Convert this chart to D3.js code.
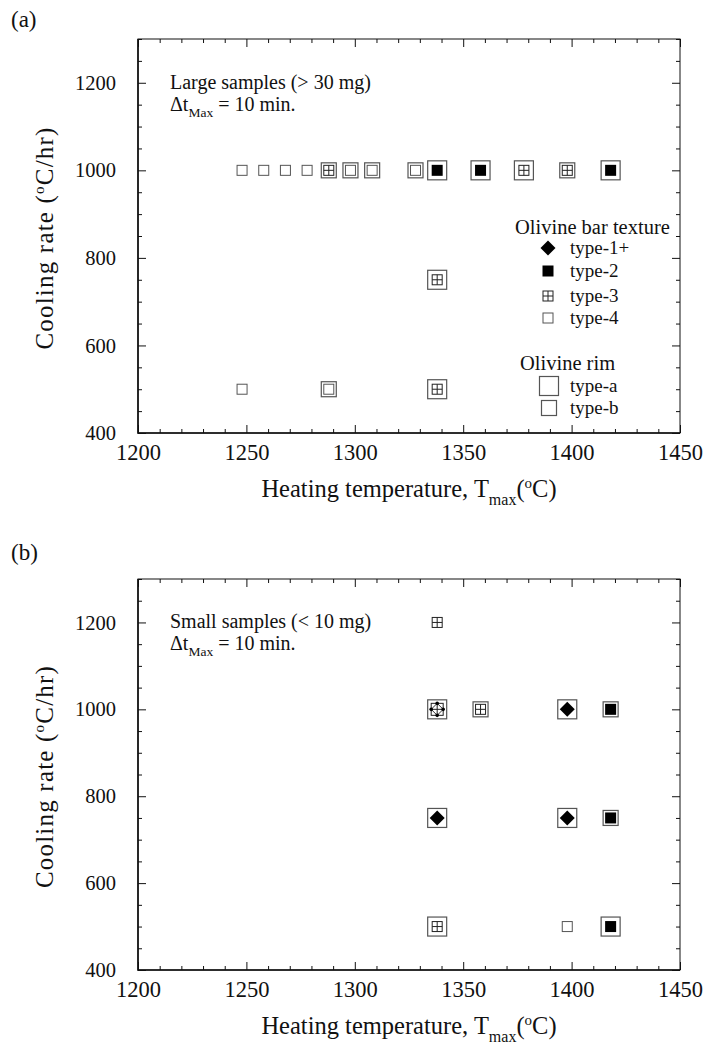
<!DOCTYPE html>
<html>
<head>
<meta charset="utf-8">
<script src="https://cdn.jsdelivr.net/npm/d3@7"></script>
<style>
  body { margin: 0; background: #fff; }
  text { font-family: "Liberation Serif", "DejaVu Serif", serif; fill: #111; }
</style>
</head>
<body>
<div id="chart"></div>
<script>
// panel (a): large samples
const aTemp = [1248, 1258, 1268, 1278, 1288, 1298, 1308, 1328, 1338, 1358, 1378, 1398, 1418, 1338, 1248, 1288, 1338];
const aRate = [1000, 1000, 1000, 1000, 1000, 1000, 1000, 1000, 1000, 1000, 1000, 1000, 1000, 750, 500, 500, 500];
const aBar = ["4", "4", "4", "4", "3", "4", "4", "4", "2", "2", "3", "3", "2", "3", "4", "4", "3"];
const aRim = ["", "", "", "", "b", "b", "b", "b", "a", "a", "a", "b", "a", "a", "", "b", "a"];

// panel (b): small samples
const bTemp = [1338, 1338, 1358, 1398, 1418, 1338, 1398, 1418, 1338, 1398, 1418];
const bRate = [1200, 1000, 1000, 1000, 1000, 750, 750, 750, 500, 500, 500];
const bBar = ["3", "1+3", "3", "1+", "2", "1+", "1+", "2", "3", "4", "2"];
const bRim = ["", "a", "b", "a", "b", "a", "a", "b", "a", "", "a"];

const xTicks = [1200, 1250, 1300, 1350, 1400, 1450];
const yTicks = [400, 600, 800, 1000, 1200];
const barTypes = ["1+", "2", "3", "4"];
const barLabels = ["type-1+", "type-2", "type-3", "type-4"];
const rimTypes = ["a", "b"];
const rimLabels = ["type-a", "type-b"];

const svg = d3.select("#chart").append("svg")
  .attr("width", 708).attr("height", 1047);

const drawRim = (g, t) => {
  if (!t) return;
  const s = t === "a" ? 19 : 15;
  g.append("rect").attr("x", -s / 2).attr("y", -s / 2).attr("width", s).attr("height", s)
    .attr("fill", "white").attr("stroke", "#555").attr("stroke-width", 1.2);
};

const drawGrid = (g, s) => {
  g.append("rect").attr("x", -s / 2).attr("y", -s / 2).attr("width", s).attr("height", s)
    .attr("fill", "white").attr("stroke", "#222").attr("stroke-width", 1);
  g.append("path").attr("d", `M${-s / 2},0H${s / 2}M0,${-s / 2}V${s / 2}`)
    .attr("stroke", "#222").attr("stroke-width", 1);
};

const drawBar = (g, t) => {
  if (t === "4") {
    g.append("rect").attr("x", -5).attr("y", -5).attr("width", 10).attr("height", 10)
      .attr("fill", "white").attr("stroke", "#555").attr("stroke-width", 1);
  } else if (t === "3") {
    drawGrid(g, 10);
  } else if (t === "2") {
    g.append("rect").attr("x", -5.5).attr("y", -5.5).attr("width", 11).attr("height", 11)
      .attr("fill", "#000");
  } else if (t === "1+") {
    g.append("path").attr("d", "M0,-7.5L7.5,0L0,7.5L-7.5,0Z").attr("fill", "#000");
  } else if (t === "1+3") {
    drawGrid(g, 12);
    g.append("path").attr("d", "M0,-6L6,0L0,6L-6,0Z")
      .attr("fill", "none").attr("stroke", "#000").attr("stroke-width", 0.8);
    [[0, -6], [6, 0], [0, 6], [-6, 0]].forEach(([cx, cy]) =>
      g.append("circle").attr("cx", cx).attr("cy", cy).attr("r", 1.8).attr("fill", "#000"));
  }
};

function drawPanel(cfg) {
  const x = d3.scaleLinear().domain([1200, 1450]).range([138, 680]);
  const y = d3.scaleLinear().domain([400, 1300]).range([cfg.bottom, cfg.top]);
  const g = svg.append("g");

  const xMinor = d3.range(1200, 1451, 10).filter((v) => v % 50 !== 0);
  const yMinor = d3.range(400, 1301, 50).filter((v) => v % 200 !== 0);

  // box
  g.append("rect").attr("x", 138).attr("y", cfg.top)
    .attr("width", 680 - 138).attr("height", cfg.bottom - cfg.top)
    .attr("fill", "none").attr("stroke", "#111").attr("stroke-width", 1);

  const styleAxis = (size) => (sel) => {
    sel.select(".domain").remove();
    sel.selectAll("line").attr("stroke", "#111").attr("stroke-width", 1);
    sel.selectAll("text").attr("font-size", size).attr("font-family", "Liberation Serif").attr("fill", "#111");
  };

  g.append("g").attr("transform", `translate(0,${cfg.bottom})`)
    .call(d3.axisBottom(x).tickValues(xTicks).tickFormat(d3.format("d")).tickSize(-8).tickPadding(11))
    .call(styleAxis(22.5));
  g.append("g").attr("transform", `translate(0,${cfg.bottom})`)
    .call(d3.axisBottom(x).tickValues(xMinor).tickFormat("").tickSize(-4))
    .call(styleAxis(10));
  g.append("g").attr("transform", `translate(0,${cfg.top})`)
    .call(d3.axisTop(x).tickValues(xTicks).tickFormat("").tickSize(-8))
    .call(styleAxis(10));
  g.append("g").attr("transform", `translate(0,${cfg.top})`)
    .call(d3.axisTop(x).tickValues(xMinor).tickFormat("").tickSize(-4))
    .call(styleAxis(10));
  g.append("g").attr("transform", "translate(138,0)")
    .call(d3.axisLeft(y).tickValues(yTicks).tickFormat(d3.format("d")).tickSize(-8).tickPadding(22))
    .call(styleAxis(20.5));
  g.append("g").attr("transform", "translate(138,0)")
    .call(d3.axisLeft(y).tickValues(yMinor).tickFormat("").tickSize(-4))
    .call(styleAxis(10));
  g.append("g").attr("transform", "translate(680,0)")
    .call(d3.axisRight(y).tickValues(yTicks).tickFormat("").tickSize(-8))
    .call(styleAxis(10));
  g.append("g").attr("transform", "translate(680,0)")
    .call(d3.axisRight(y).tickValues(yMinor).tickFormat("").tickSize(-4))
    .call(styleAxis(10));

  // heavier left and bottom axis lines
  g.append("path").attr("d", `M138,${cfg.top}V${cfg.bottom}H680`)
    .attr("fill", "none").attr("stroke", "#111").attr("stroke-width", 1.6);

  // panel letter
  g.append("text").attr("x", 11).attr("y", cfg.letterY).attr("font-size", 23).text(cfg.letter);

  // note
  g.append("text").attr("x", 170).attr("y", y(1200) + 6).attr("font-size", 20).text(cfg.note);
  const dt = g.append("text").attr("x", 170).attr("y", y(1200) + 28).attr("font-size", 20);
  dt.append("tspan").text("\u0394t");
  dt.append("tspan").attr("font-size", 13.5).attr("dy", 6).text("Max");
  dt.append("tspan").attr("dy", -6).text(" = 10 min.");

  // axis titles
  const xl = g.append("text").attr("x", 409).attr("y", cfg.bottom + 64)
    .attr("text-anchor", "middle").attr("font-size", 24.5);
  xl.append("tspan").text("Heating temperature, T");
  xl.append("tspan").attr("font-size", 16).attr("dy", 8).text("max");
  xl.append("tspan").attr("dy", -8).text("(");
  xl.append("tspan").attr("font-size", 15).attr("dy", -9).text("o");
  xl.append("tspan").attr("dy", 9).text("C)");

  const yl = g.append("text")
    .attr("transform", `translate(53,${(cfg.top + cfg.bottom) / 2 + 2}) rotate(-90)`)
    .attr("text-anchor", "middle").attr("font-size", 25).attr("letter-spacing", 1.2);
  yl.append("tspan").text("Cooling rate (");
  yl.append("tspan").attr("font-size", 15).attr("dy", -9).text("o");
  yl.append("tspan").attr("dy", 9).text("C/hr)");

  // points
  const pts = cfg.temps.map((t, i) => ({ t, r: cfg.rates[i], bar: cfg.bars[i], rim: cfg.rims[i] }));
  pts.forEach((d) => {
    const m = g.append("g").attr("transform", `translate(${x(d.t)},${y(d.r)})`);
    drawRim(m, d.rim);
    drawBar(m, d.bar);
  });

  if (cfg.legend) {
    const lg = g.append("g");
    lg.append("text").attr("x", 515).attr("y", 234).attr("font-size", 20.5).text("Olivine bar texture");
    const ly = [248, 271, 296, 318];
    barTypes.forEach((t, i) => {
      const m = lg.append("g").attr("transform", `translate(548,${ly[i]})`);
      drawBar(m, t);
      lg.append("text").attr("x", 570).attr("y", ly[i] + 6).attr("font-size", 19).text(barLabels[i]);
    });
    lg.append("text").attr("x", 520).attr("y", 370).attr("font-size", 20.5).text("Olivine rim");
    const ry = [386, 408];
    rimTypes.forEach((t, i) => {
      const m = lg.append("g").attr("transform", `translate(549,${ry[i]})`);
      drawRim(m, t);
      lg.append("text").attr("x", 570).attr("y", ry[i] + 6).attr("font-size", 19).text(rimLabels[i]);
    });
  }
}

drawPanel({ top: 39, bottom: 433, letter: "(a)", letterY: 27, note: "Large samples (> 30 mg)",
  temps: aTemp, rates: aRate, bars: aBar, rims: aRim, legend: true });
drawPanel({ top: 579, bottom: 970, letter: "(b)", letterY: 560, note: "Small samples (< 10 mg)",
  temps: bTemp, rates: bRate, bars: bBar, rims: bRim, legend: false });
</script>
</body>
</html>
